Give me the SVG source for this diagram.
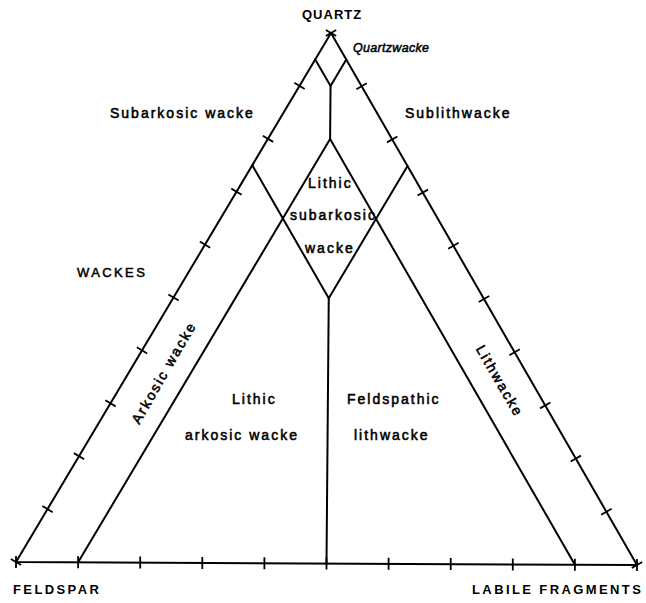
<svg xmlns="http://www.w3.org/2000/svg" width="646" height="603" viewBox="0 0 646 603">
  <style>
    .ln { fill: none; stroke: #000; stroke-width: 2; stroke-linecap: round; stroke-linejoin: round; }
    .tk { fill: none; stroke: #000; stroke-width: 1.8; }
    .lab { font-family: "Liberation Sans", Arial, sans-serif; font-size: 14px; letter-spacing: 2px; fill: #000; stroke: #000; stroke-width: 0.55px; }
    .cap { font-family: "Liberation Sans", Arial, sans-serif; font-size: 13px; font-weight: bold; letter-spacing: 2.4px; fill: #000; }
    .wk { font-family: "Liberation Sans", Arial, sans-serif; font-size: 13px; letter-spacing: 2.4px; fill: #000; stroke: #000; stroke-width: 0.5px; }
    .it { font-family: "Liberation Sans", Arial, sans-serif; font-size: 12.5px; font-style: italic; letter-spacing: 0.3px; fill: #000; stroke: #000; stroke-width: 0.5px; }
  </style>
  <rect width="646" height="603" fill="#fff"/>

  <g id="triangle">
    <path class="ln" d="M331 33 L16 562 L637 565 Z"/>
  </g>

  <g id="connectors">
    <path class="ln" d="M315.25 59.45 L330.55 86.05 L346.3 59.6"/>
    <path class="ln" d="M330.55 86.05 L330.1 139.1"/>
    <path class="ln" d="M78.1 562.3 L330.1 139.1 L574.9 564.7"/>
    <path class="ln" d="M252.25 165.25 L328.75 298.25 L407.5 166"/>
    <path class="ln" d="M328.75 298.25 L326.5 563.5"/>
  </g>

  <g id="ticks">
    <path class="tk" d="M325.84 29.93 L336.16 36.07 M294.34 82.83 L304.66 88.97 M262.84 135.73 L273.16 141.87 M231.34 188.63 L241.66 194.77 M199.84 241.53 L210.16 247.67 M168.34 294.43 L178.66 300.57 M136.84 347.33 L147.16 353.47 M105.34 400.23 L115.66 406.37 M73.84 453.13 L84.16 459.27 M42.34 506.03 L52.66 512.17 M10.84 558.93 L21.16 565.07"/>
    <path class="tk" d="M325.8 35.99 L336.2 30.01 M356.4 89.19 L366.8 83.21 M387 142.39 L397.4 136.41 M417.6 195.59 L428 189.61 M448.2 248.79 L458.6 242.81 M478.8 301.99 L489.2 296.01 M509.4 355.19 L519.8 349.21 M540 408.39 L550.4 402.41 M570.6 461.59 L581 455.61 M601.2 514.79 L611.6 508.81 M631.8 567.99 L642.2 562.01"/>
    <path class="tk" d="M16 556 V568 M78.1 556.3 V568.3 M140.2 556.6 V568.6 M202.3 556.9 V568.9 M264.4 557.2 V569.2 M326.5 557.5 V569.5 M388.6 557.8 V569.8 M450.7 558.1 V570.1 M512.8 558.4 V570.4 M574.9 558.7 V570.7 M637 559 V571"/>
  </g>

  <g id="corner-quartz"><text class="cap" x="302" y="19" style="letter-spacing:1px">QUARTZ</text></g>
  <g id="corner-feldspar"><text class="cap" x="13" y="594">FELDSPAR</text></g>
  <g id="corner-labile"><text class="cap" x="472" y="594">LABILE FRAGMENTS</text></g>

  <g id="field-quartzwacke"><text class="it" x="353" y="52">Quartzwacke</text></g>
  <g id="field-subarkosic"><text class="lab" x="110" y="118">Subarkosic wacke</text></g>
  <g id="field-sublithwacke"><text class="lab" x="405" y="118">Sublithwacke</text></g>
  <g id="title-wackes"><text class="wk" x="77" y="277">WACKES</text></g>
  <g id="field-lithic-subarkosic">
    <text class="lab" x="308" y="188">Lithic</text>
    <text class="lab" x="290" y="220">subarkosic</text>
    <text class="lab" x="305" y="253">wacke</text>
  </g>
  <g id="field-lithic-arkosic">
    <text class="lab" x="232" y="404">Lithic</text>
    <text class="lab" x="185" y="440">arkosic wacke</text>
  </g>
  <g id="field-feldspathic-lithwacke">
    <text class="lab" x="347" y="404">Feldspathic</text>
    <text class="lab" x="354" y="440">lithwacke</text>
  </g>
  <g id="field-arkosic-wacke">
    <text class="lab" x="168" y="375" text-anchor="middle" transform="rotate(-60 168 375)">Arkosic wacke</text>
  </g>
  <g id="field-lithwacke">
    <text class="lab" x="495.5" y="383.5" text-anchor="middle" transform="rotate(60 495.5 383.5)">Lithwacke</text>
  </g>
</svg>
